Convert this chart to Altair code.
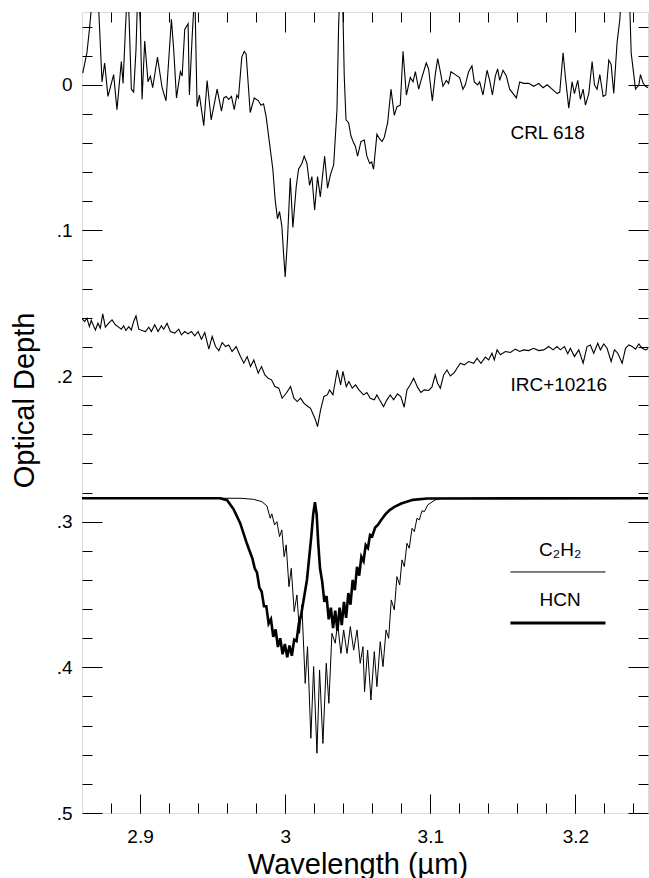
import altair as alt
import pandas as pd

# ---------------- data (wavelength in µm, optical depth) -------------
crl_618 = [
    (2.8605, -0.008), (2.8634, -0.022), (2.8651, -0.038), (2.8664, -0.052), (2.8690, -0.075),
    (2.8715, -0.052), (2.8738, -0.002), (2.8756, -0.015), (2.8779, 0.008), (2.8818, -0.007),
    (2.8841, 0.017), (2.8871, -0.016), (2.8883, -0.001), (2.8899, -0.038), (2.8913, -0.065),
    (2.8924, -0.047), (2.8940, 0.003), (2.8956, 0.005), (2.8972, -0.024), (2.8986, -0.070),
    (2.9002, -0.042), (2.9014, 0.010), (2.9032, -0.030), (2.9055, -0.002), (2.9071, -0.006),
    (2.9087, 0.002), (2.9120, -0.019), (2.9152, 0.002), (2.9179, 0.011), (2.9216, -0.045),
    (2.9232, -0.024), (2.9251, 0.009), (2.9278, -0.009), (2.9290, -0.006), (2.9308, -0.038),
    (2.9331, -0.042), (2.9340, 0.007), (2.9359, -0.033), (2.9377, -0.065), (2.9393, 0.015),
    (2.9409, 0.007), (2.9439, 0.028), (2.9462, -0.003), (2.9490, 0.024), (2.9508, 0.015),
    (2.9531, 0.003), (2.9561, 0.018), (2.9577, 0.009), (2.9593, 0.008), (2.9611, 0.010),
    (2.9630, 0.008), (2.9649, 0.017), (2.9667, 0.007), (2.9678, 0.009), (2.9701, -0.019),
    (2.9718, -0.023), (2.9731, -0.021), (2.9759, 0.019), (2.9787, 0.009), (2.9816, 0.011),
    (2.9833, 0.014), (2.9851, 0.013), (2.9869, 0.022), (2.9892, 0.040), (2.9915, 0.058),
    (2.9931, 0.079), (2.9947, 0.092), (2.9961, 0.087), (2.9977, 0.097), (2.9989, 0.116),
    (3.0000, 0.132), (3.0016, 0.106), (3.0035, 0.064), (3.0053, 0.098), (3.0076, 0.070),
    (3.0092, 0.058), (3.0115, 0.054), (3.0131, 0.049), (3.0150, 0.054), (3.0168, 0.069),
    (3.0184, 0.063), (3.0203, 0.086), (3.0223, 0.063), (3.0242, 0.077), (3.0272, 0.049),
    (3.0292, 0.071), (3.0311, 0.062), (3.0334, 0.055), (3.0357, 0.017), (3.0368, -0.040),
    (3.0375, -0.060), (3.0385, -0.085), (3.0395, -0.060), (3.0400, -0.040), (3.0407, -0.006),
    (3.0419, 0.024), (3.0437, 0.026), (3.0453, 0.035), (3.0472, 0.040), (3.0483, 0.042),
    (3.0499, 0.049), (3.0522, 0.039), (3.0545, 0.038), (3.0563, 0.049), (3.0582, 0.054),
    (3.0596, 0.053), (3.0609, 0.058), (3.0632, 0.034), (3.0650, 0.037), (3.0667, 0.039),
    (3.0683, 0.036), (3.0706, 0.026), (3.0729, 0.003), (3.0752, 0.021), (3.0770, 0.015),
    (3.0793, 0.014), (3.0812, -0.023), (3.0835, 0.007), (3.0862, -0.005), (3.0881, -0.002),
    (3.0897, -0.009), (3.0920, 0.003), (3.0936, -0.003), (3.0972, -0.015), (3.0988, -0.011),
    (3.1014, 0.011), (3.1034, -0.007), (3.1051, -0.018), (3.1069, -0.009), (3.1087, 0.001),
    (3.1110, -0.003), (3.1126, -0.001), (3.1142, -0.009), (3.1172, -0.007), (3.1202, -0.005),
    (3.1225, 0.003), (3.1241, 0.000), (3.1264, -0.009), (3.1287, -0.013), (3.1303, -0.002),
    (3.1326, 0.000), (3.1340, -0.002), (3.1363, 0.007), (3.1391, -0.010), (3.1409, -0.003),
    (3.1428, 0.007), (3.1448, -0.006), (3.1464, -0.011), (3.1478, -0.003), (3.1501, -0.010),
    (3.1524, -0.006), (3.1547, 0.003), (3.1593, 0.009), (3.1616, -0.002), (3.1644, -0.001),
    (3.1678, -0.001), (3.1713, 0.001), (3.1747, -0.001), (3.1777, 0.002), (3.1805, 0.000),
    (3.1839, 0.003), (3.1874, 0.006), (3.1892, 0.005), (3.1915, -0.022), (3.1931, -0.005),
    (3.1954, 0.016), (3.1977, -0.002), (3.1993, 0.006), (3.2016, -0.003), (3.2034, 0.010),
    (3.2053, 0.003), (3.2069, 0.014), (3.2092, 0.006), (3.2115, -0.016), (3.2131, 0.000),
    (3.2149, 0.003), (3.2168, -0.007), (3.2191, 0.008), (3.2209, 0.007), (3.2230, -0.017),
    (3.2246, -0.014), (3.2264, 0.006), (3.2287, -0.029), (3.2306, -0.045), (3.2330, -0.085),
    (3.2375, -0.052), (3.2384, -0.022), (3.2402, -0.007), (3.2414, 0.003), (3.2437, 0.000),
    (3.2448, -0.007), (3.2467, -0.001), (3.2483, 0.001), (3.2501, 0.002),
]

irc_10216 = [
    (2.8600, 0.1603), (2.8618, 0.1625), (2.8634, 0.1603), (2.8651, 0.1660), (2.8664, 0.1618),
    (2.8680, 0.1655), (2.8692, 0.1683), (2.8710, 0.1637), (2.8726, 0.1671), (2.8743, 0.1573),
    (2.8761, 0.1664), (2.8784, 0.1637), (2.8807, 0.1614), (2.8830, 0.1648), (2.8848, 0.1660),
    (2.8871, 0.1678), (2.8887, 0.1655), (2.8903, 0.1687), (2.8922, 0.1660), (2.8940, 0.1683),
    (2.8956, 0.1625), (2.8972, 0.1587), (2.8991, 0.1678), (2.9014, 0.1687), (2.9037, 0.1694),
    (2.9060, 0.1664), (2.9078, 0.1694), (2.9101, 0.1648), (2.9124, 0.1694), (2.9147, 0.1655),
    (2.9163, 0.1678), (2.9186, 0.1637), (2.9209, 0.1694), (2.9239, 0.1705), (2.9267, 0.1678),
    (2.9285, 0.1717), (2.9308, 0.1694), (2.9331, 0.1710), (2.9354, 0.1694), (2.9377, 0.1724),
    (2.9400, 0.1694), (2.9423, 0.1747), (2.9446, 0.1701), (2.9474, 0.1815), (2.9497, 0.1728),
    (2.9520, 0.1797), (2.9543, 0.1825), (2.9566, 0.1769), (2.9589, 0.1797), (2.9611, 0.1786),
    (2.9634, 0.1831), (2.9662, 0.1797), (2.9692, 0.1866), (2.9715, 0.1911), (2.9738, 0.1866),
    (2.9761, 0.1934), (2.9784, 0.1889), (2.9814, 0.1980), (2.9837, 0.1934), (2.9860, 0.1992),
    (2.9883, 0.2015), (2.9906, 0.2026), (2.9929, 0.2072), (2.9956, 0.2083), (2.9979, 0.2152),
    (3.0007, 0.2118), (3.0037, 0.2072), (3.0060, 0.2152), (3.0083, 0.2175), (3.0106, 0.2152),
    (3.0129, 0.2186), (3.0152, 0.2205), (3.0175, 0.2221), (3.0209, 0.2301), (3.0223, 0.2347),
    (3.0244, 0.2232), (3.0267, 0.2140), (3.0290, 0.2129), (3.0306, 0.2095), (3.0329, 0.2129),
    (3.0359, 0.1958), (3.0382, 0.2060), (3.0398, 0.1968), (3.0421, 0.2072), (3.0439, 0.2037),
    (3.0462, 0.2083), (3.0485, 0.2060), (3.0508, 0.2095), (3.0540, 0.2129), (3.0563, 0.2113),
    (3.0586, 0.2152), (3.0614, 0.2163), (3.0632, 0.2129), (3.0650, 0.2163), (3.0678, 0.2209),
    (3.0701, 0.2163), (3.0724, 0.2129), (3.0747, 0.2163), (3.0774, 0.2122), (3.0797, 0.2140),
    (3.0820, 0.2214), (3.0839, 0.2095), (3.0862, 0.2060), (3.0885, 0.2015), (3.0912, 0.2076),
    (3.0935, 0.2113), (3.0958, 0.2095), (3.0988, 0.2099), (3.1011, 0.2076), (3.1034, 0.1992),
    (3.1050, 0.2049), (3.1069, 0.2083), (3.1092, 0.1992), (3.1115, 0.1958), (3.1138, 0.1999),
    (3.1165, 0.1976), (3.1184, 0.1946), (3.1207, 0.1912), (3.1234, 0.1923), (3.1264, 0.1900),
    (3.1299, 0.1912), (3.1322, 0.1877), (3.1349, 0.1912), (3.1379, 0.1870), (3.1402, 0.1889),
    (3.1425, 0.1843), (3.1441, 0.1889), (3.1460, 0.1820), (3.1483, 0.1854), (3.1517, 0.1831),
    (3.1552, 0.1838), (3.1586, 0.1815), (3.1616, 0.1831), (3.1643, 0.1820), (3.1678, 0.1825),
    (3.1712, 0.1809), (3.1747, 0.1825), (3.1781, 0.1820), (3.1816, 0.1797), (3.1846, 0.1820),
    (3.1873, 0.1797), (3.1896, 0.1820), (3.1924, 0.1797), (3.1947, 0.1847), (3.1965, 0.1809),
    (3.1993, 0.1866), (3.2023, 0.1820), (3.2053, 0.1911), (3.2080, 0.1797), (3.2103, 0.1786),
    (3.2126, 0.1843), (3.2154, 0.1774), (3.2172, 0.1820), (3.2195, 0.1779), (3.2218, 0.1809),
    (3.2246, 0.1900), (3.2269, 0.1820), (3.2292, 0.1843), (3.2322, 0.1912), (3.2345, 0.1809),
    (3.2368, 0.1786), (3.2391, 0.1797), (3.2414, 0.1815), (3.2437, 0.1779), (3.2460, 0.1809),
    (3.2483, 0.1820), (3.2506, 0.1809),
]

c2h2_model = [
    (2.8600, 0.2839), (2.9690, 0.2839), (2.9782, 0.2846), (2.9839, 0.2862), (2.9874, 0.2891),
    (2.9897, 0.2976), (2.9908, 0.2946), (2.9927, 0.3022), (2.9943, 0.2999), (2.9961, 0.3102),
    (2.9977, 0.3056), (2.9993, 0.3240), (3.0007, 0.3159), (3.0026, 0.3446), (3.0042, 0.3320),
    (3.0062, 0.3617), (3.0081, 0.3503), (3.0099, 0.3766), (3.0115, 0.3571), (3.0138, 0.4110),
    (3.0154, 0.3858), (3.0177, 0.4487), (3.0196, 0.3995), (3.0219, 0.4590), (3.0237, 0.4018),
    (3.0260, 0.4522), (3.0283, 0.3972), (3.0301, 0.4247), (3.0322, 0.3766), (3.0345, 0.3834),
    (3.0361, 0.3697), (3.0384, 0.3904), (3.0403, 0.3743), (3.0426, 0.3904), (3.0449, 0.3720),
    (3.0472, 0.3882), (3.0495, 0.3743), (3.0517, 0.3972), (3.0536, 0.3858), (3.0547, 0.4167),
    (3.0568, 0.3881), (3.0591, 0.4224), (3.0614, 0.3892), (3.0632, 0.4132), (3.0655, 0.3824),
    (3.0674, 0.3995), (3.0695, 0.3743), (3.0713, 0.3801), (3.0731, 0.3537), (3.0752, 0.3606),
    (3.0770, 0.3377), (3.0789, 0.3434), (3.0805, 0.3262), (3.0821, 0.3308), (3.0839, 0.3148),
    (3.0855, 0.3182), (3.0874, 0.3045), (3.0890, 0.3068), (3.0908, 0.2976), (3.0924, 0.2988),
    (3.0943, 0.2924), (3.0959, 0.2931), (3.0982, 0.2885), (3.1005, 0.2869), (3.1035, 0.2850),
    (3.1069, 0.2841), (3.2500, 0.2839),
]

hcn_model = [
    (2.8600, 0.2839), (2.9552, 0.2839), (2.9600, 0.2852), (2.9645, 0.2915), (2.9690, 0.3010),
    (2.9736, 0.3150), (2.9760, 0.3215), (2.9775, 0.3255), (2.9790, 0.3320), (2.9806, 0.3350),
    (2.9822, 0.3450), (2.9838, 0.3480), (2.9854, 0.3580), (2.9870, 0.3580), (2.9886, 0.3700),
    (2.9902, 0.3670), (2.9918, 0.3790), (2.9934, 0.3740), (2.9950, 0.3860), (2.9966, 0.3800),
    (2.9982, 0.3910), (2.9998, 0.3840), (3.0014, 0.3930), (3.0030, 0.3850), (3.0046, 0.3920),
    (3.0062, 0.3810), (3.0078, 0.3820), (3.0094, 0.3700), (3.0110, 0.3640), (3.0130, 0.3520),
    (3.0150, 0.3400), (3.0165, 0.3250), (3.0180, 0.3100), (3.0193, 0.2950), (3.0205, 0.2865),
    (3.0217, 0.2950), (3.0228, 0.3150), (3.0240, 0.3320), (3.0255, 0.3410), (3.0270, 0.3550),
    (3.0285, 0.3510), (3.0300, 0.3670), (3.0315, 0.3590), (3.0330, 0.3730), (3.0345, 0.3610),
    (3.0360, 0.3750), (3.0375, 0.3590), (3.0390, 0.3710), (3.0405, 0.3550), (3.0420, 0.3660),
    (3.0435, 0.3490), (3.0450, 0.3570), (3.0465, 0.3400), (3.0480, 0.3470), (3.0495, 0.3310),
    (3.0510, 0.3370), (3.0525, 0.3240), (3.0540, 0.3270), (3.0555, 0.3160), (3.0570, 0.3180),
    (3.0585, 0.3090), (3.0600, 0.3100), (3.0620, 0.3040), (3.0640, 0.3020), (3.0660, 0.2990),
    (3.0690, 0.2950), (3.0720, 0.2920), (3.0750, 0.2900), (3.0800, 0.2875), (3.0880, 0.2850),
    (3.0980, 0.2840), (3.2500, 0.2839),
]

x_major = [2.9, 3.0, 3.1, 3.2]
x_minor = [2.88, 2.9, 2.92, 2.94, 2.96, 2.98, 3.0, 3.02, 3.04, 3.06, 3.08, 3.1,
           3.12, 3.14, 3.16, 3.18, 3.2, 3.22, 3.24]
y_major = [0.0, 0.1, 0.2, 0.3, 0.4, 0.5]
y_minor = [-0.04, -0.02, 0.0, 0.02, 0.04, 0.06, 0.08, 0.1, 0.12, 0.14, 0.16, 0.18,
           0.2, 0.22, 0.24, 0.26, 0.28, 0.3, 0.32, 0.34, 0.36, 0.38, 0.4, 0.42,
           0.44, 0.46, 0.48]

label_text = ["CRL 618", "IRC+10216"]
label_wl = [3.1552, 3.1552]
label_depth = [0.0333, 0.2063]

legend_text = ["C\u2082H\u2082", "HCN"]
legend_text_wl = [3.1895, 3.1895]
legend_text_depth = [0.3194, 0.3537]
legend_line_wl = [3.1552, 3.2207]
legend_line_depth = [0.3345, 0.3695]

# ---------------- chart ----------------
W, H = 566, 801
FONT = "Liberation Sans"


def frame(pairs):
    return pd.DataFrame(pairs, columns=["wl", "depth"])


xscale = alt.Scale(domain=[2.86, 3.25], nice=False, zero=False)
yscale = alt.Scale(domain=[-0.05, 0.5], reverse=True, nice=False, zero=False)


def tick_axis(orient, values, size, offset):
    return alt.Axis(orient=orient, values=values, labels=False, domain=False, grid=False,
                    ticks=True, tickSize=size, tickColor="black", tickWidth=1, offset=offset)


def xenc(axis):
    return alt.X("wl:Q", scale=xscale, axis=axis, title=None)


def yenc(axis):
    return alt.Y("depth:Q", scale=yscale, axis=axis, title=None)


x_label_axis = alt.Axis(
    orient="bottom", values=x_major, labelExpr="toString(datum.value)",
    ticks=False, tickSize=0, domain=False, grid=False, labelPadding=14,
    labelFontSize=19, labelColor="black", labelFont=FONT, labelFlush=False,
    labelOverlap=False, titleFontSize=29, titleFontWeight="normal", titleColor="black",
    titleFont=FONT, titleX=275.5, titleY=60, titleAlign="center", titleBaseline="alphabetic",
)
y_label_axis = alt.Axis(
    orient="left", values=y_major,
    labelExpr="datum.value == 0 ? '0' : replace(toString(datum.value), '0.', '.')",
    ticks=False, tickSize=0, domain=False, grid=False, labelPadding=10,
    labelFontSize=19, labelColor="black", labelFont=FONT, labelFlush=False,
    labelOverlap=False, titleFontSize=29, titleFontWeight="normal", titleColor="black",
    titleFont=FONT, titleAngle=270, titleX=-48.5, titleY=388, titleAlign="center",
    titleBaseline="alphabetic",
)

crl_layer = alt.Chart(frame(crl_618)).mark_line(
    color="black", strokeWidth=1.1, clip=True
).encode(
    x=alt.X("wl:Q", scale=xscale, axis=x_label_axis, title="Wavelength (\u00b5m)"),
    y=alt.Y("depth:Q", scale=yscale, axis=y_label_axis, title="Optical Depth"),
)

irc_layer = alt.Chart(frame(irc_10216)).mark_line(
    color="black", strokeWidth=1.1, clip=True
).encode(
    x=xenc(tick_axis("top", x_major, 19, -H)),
    y=yenc(tick_axis("right", y_major, 20, -W)),
)

c2h2_layer = alt.Chart(frame(c2h2_model)).mark_line(
    color="black", strokeWidth=1.0, clip=True
).encode(
    x=xenc(tick_axis("top", x_minor, 10, -H)),
    y=yenc(tick_axis("right", y_minor, 10, -W)),
)

hcn_layer = alt.Chart(frame(hcn_model)).mark_line(
    color="black", strokeWidth=2.6, clip=True
).encode(
    x=xenc(tick_axis("bottom", x_major, 20, -H)),
    y=yenc(tick_axis("left", y_major, 20, -W)),
)

labels_df = pd.DataFrame({"text": label_text, "wl": label_wl, "depth": label_depth})
labels_layer = alt.Chart(labels_df).mark_text(
    align="left", baseline="middle", fontSize=19, font=FONT, color="black"
).encode(
    x=xenc(tick_axis("bottom", x_minor, 10, -H)),
    y=yenc(tick_axis("left", y_minor, 10, -W)),
    text="text:N",
)

legend_df = pd.DataFrame({"text": legend_text, "wl": legend_text_wl, "depth": legend_text_depth})
legend_text_layer = alt.Chart(legend_df).mark_text(
    align="center", baseline="middle", fontSize=19, font=FONT, color="black"
).encode(x=xenc(None), y=yenc(None), text="text:N")

thin_df = pd.DataFrame({"wl": [legend_line_wl[0]], "wl2": [legend_line_wl[1]],
                        "depth": [legend_line_depth[0]]})
thick_df = pd.DataFrame({"wl": [legend_line_wl[0]], "wl2": [legend_line_wl[1]],
                         "depth": [legend_line_depth[1]]})
thin_rule = alt.Chart(thin_df).mark_rule(color="black", strokeWidth=1).encode(
    x=xenc(None), x2="wl2:Q", y=yenc(None))
thick_rule = alt.Chart(thick_df).mark_rule(color="black", strokeWidth=3).encode(
    x=xenc(None), x2="wl2:Q", y=yenc(None))

chart = alt.layer(
    crl_layer, irc_layer, c2h2_layer, hcn_layer, labels_layer,
    legend_text_layer, thin_rule, thick_rule,
).resolve_axis(
    x="independent", y="independent"
).properties(
    width=W, height=H,
    padding={"left": 82, "top": 12, "right": 1, "bottom": 65},
    autosize=alt.AutoSizeParams(type="none"),
    background="white",
).configure_view(
    stroke="black", strokeWidth=1
).configure(font=FONT)

chart.save("out.html", embed_options={"renderer": "svg", "actions": False})
